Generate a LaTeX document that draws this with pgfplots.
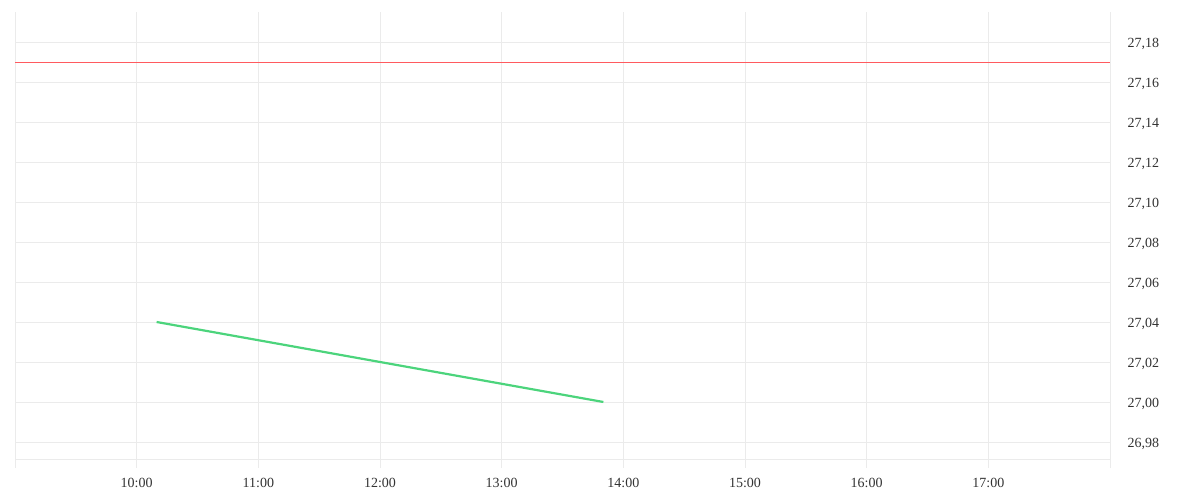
\documentclass[border=0pt]{standalone}
\usepackage{fontspec}
\setmainfont{Liberation Serif}
\usepackage{pgfplots}
\pgfplotsset{compat=1.18}
\definecolor{gridc}{HTML}{EBEBEB}
\definecolor{redl}{HTML}{FF5A5F}
\definecolor{greenl}{HTML}{4CD47C}
\definecolor{txt}{HTML}{333333}
\begin{document}
\begin{tikzpicture}[x=1bp,y=1bp]
\path (0,0) rectangle (1200,500);
\begin{axis}[
  at={(15bp,32bp)}, anchor=south west,
  scale only axis, width=1095bp, height=456bp,
  xmin=9, xmax=18, ymin=26.967, ymax=27.195,
  axis line style={draw=none},
  major tick length=0pt,
  xtick={9,10,11,12,13,14,15,16,17,18},
  xticklabels={,10:00,11:00,12:00,13:00,14:00,15:00,16:00,17:00,},
  ytick={26.98,27.00,27.02,27.04,27.06,27.08,27.10,27.12,27.14,27.16,27.18},
  extra y ticks={26.9715}, extra y tick labels={},
  extra y tick style={grid=major},
  grid=major,
  grid style={gridc, line width=0.8bp},
  yticklabel pos=right,
  yticklabel style={anchor=west, xshift=14bp, yshift=-2bp, font=\fontsize{14bp}{16bp}\selectfont, text=txt},
  xticklabel style={yshift=-7bp, font=\fontsize{14bp}{16bp}\selectfont, text=txt},
  /pgf/number format/.cd, fixed, fixed zerofill, precision=2, use comma, 1000 sep={}, assume math mode=true,
]
\addplot[redl, line width=0.9bp] coordinates {(9,27.17) (18,27.17)};
\addplot[greenl, line width=2.2bp] coordinates {(10.164,27.04) (13.836,27.00)};
\end{axis}
\end{tikzpicture}
\end{document}
